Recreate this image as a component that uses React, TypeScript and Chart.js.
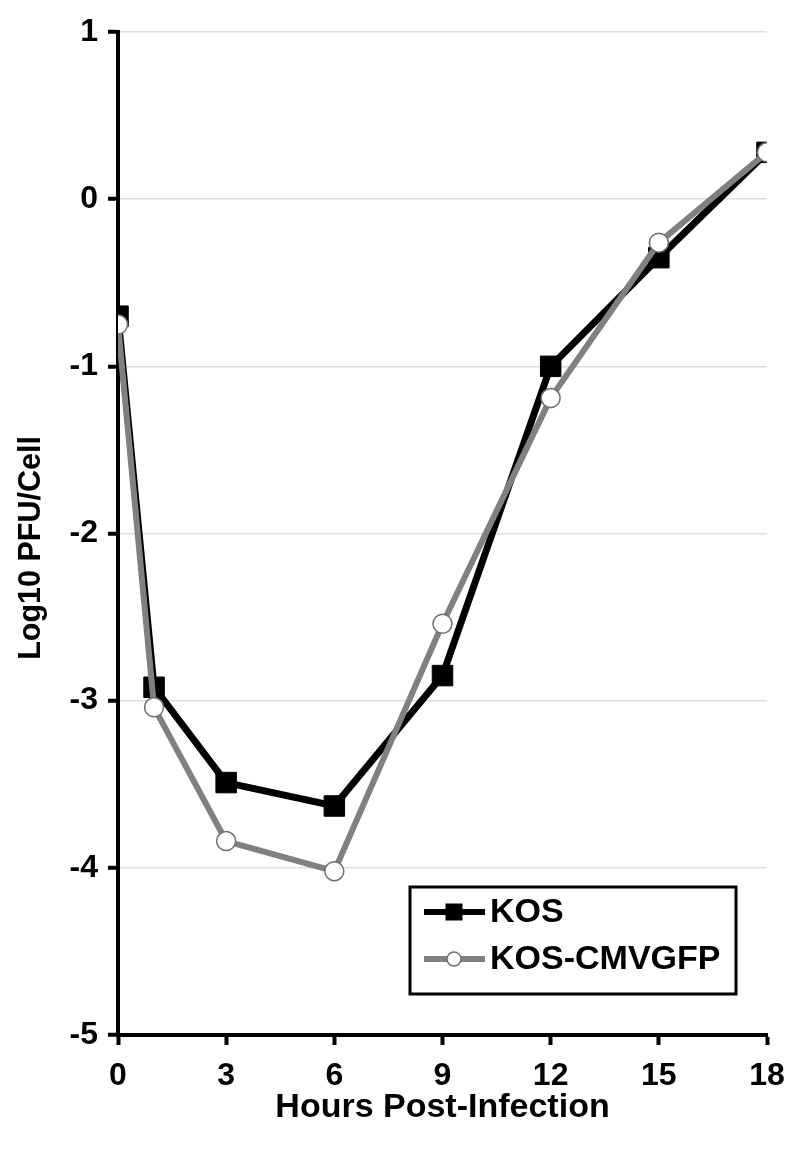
import React, { useEffect, useRef } from "react";
import { Chart, registerables } from "chart.js";

Chart.register(...registerables);

const hours = [0, 1, 3, 6, 9, 12, 15, 18];
const kosValues = [-0.70, -2.92, -3.49, -3.63, -2.85, -1.0, -0.35, 0.28];
const gfpValues = [-0.75, -3.04, -3.84, -4.02, -2.54, -1.19, -0.26, 0.28];
const seriesNames = ["KOS", "KOS-CMVGFP"];
const xTitle = "Hours Post-Infection";
const yTitle = "Log10 PFU/Cell";

const FONT = "'Liberation Sans', Arial, Helvetica, sans-serif";

const legendPlugin = {
  id: "boxLegend",
  afterDraw(chart: any) {
    const ctx = chart.ctx as CanvasRenderingContext2D;
    ctx.save();
    // y-axis title
    ctx.save();
    ctx.translate(24, 540);
    ctx.rotate(-Math.PI / 2);
    ctx.fillStyle = "#000";
    ctx.font = `bold 30.5px ${FONT}`;
    ctx.textAlign = "center";
    ctx.textBaseline = "middle";
    ctx.fillText(yTitle, 0, 0);
    ctx.restore();

    const left = 402, top = 879, w = 326, h = 107;
    ctx.lineWidth = 3;
    ctx.strokeStyle = "#000";
    ctx.fillStyle = "#fff";
    ctx.fillRect(left, top, w, h);
    ctx.strokeRect(left, top, w, h);
    const rows = [
      { y: 904, color: "#000", marker: "rect" },
      { y: 951, color: "#808080", marker: "circle" },
    ];
    rows.forEach((r, i) => {
      ctx.beginPath();
      ctx.lineWidth = 6;
      ctx.strokeStyle = r.color;
      ctx.moveTo(416, r.y);
      ctx.lineTo(477, r.y);
      ctx.stroke();
      if (r.marker === "rect") {
        ctx.fillStyle = "#000";
        ctx.fillRect(446 - 8.5, r.y - 8.5, 17, 17);
      } else {
        ctx.beginPath();
        ctx.arc(446, r.y, 7, 0, Math.PI * 2);
        ctx.fillStyle = "#fff";
        ctx.fill();
        ctx.lineWidth = 1.5;
        ctx.strokeStyle = "#707070";
        ctx.stroke();
      }
      ctx.fillStyle = "#000";
      ctx.font = `bold 34px ${FONT}`;
      ctx.textBaseline = "middle";
      ctx.textAlign = "left";
      ctx.fillText(seriesNames[i], 482, r.y + 1);
    });
    ctx.restore();
  },
};

export default function App() {
  const ref = useRef<HTMLCanvasElement>(null);
  useEffect(() => {
    if (!ref.current) return;
    const chart = new Chart(ref.current, {
      type: "line",
      data: {
        datasets: [
          {
            label: seriesNames[0],
            data: hours.map((h, i) => ({ x: h, y: kosValues[i] })),
            borderColor: "#000",
            borderWidth: 7,
            pointStyle: "rect",
            pointRadius: 14.5,
            pointBackgroundColor: "#000",
            pointBorderColor: "#000",
            pointBorderWidth: 1,
            order: 2,
            tension: 0,
          },
          {
            label: seriesNames[1],
            data: hours.map((h, i) => ({ x: h, y: gfpValues[i] })),
            borderColor: "#808080",
            borderWidth: 6,
            pointStyle: "circle",
            pointRadius: 9.5,
            pointBackgroundColor: "#fff",
            pointBorderColor: "#707070",
            pointBorderWidth: 1.5,
            order: 1,
            tension: 0,
          },
        ],
      },
      options: {
        animation: false,
        responsive: false,
        maintainAspectRatio: false,
        layout: { padding: { top: 24, right: 25, left: 0, bottom: 0 } },
        plugins: { legend: { display: false }, tooltip: { enabled: false } },
        scales: {
          x: {
            type: "linear",
            min: 0,
            max: 18,
            afterFit: (s: any) => {
              s.height = 113;
              s.paddingLeft = 0;
              s.paddingRight = 0;
            },
            ticks: {
              stepSize: 3,
              padding: 12,
              color: "#000",
              font: { family: FONT, size: 32, weight: "bold" },
            },
            grid: {
              drawOnChartArea: false,
              drawTicks: true,
              tickLength: 10,
              tickWidth: 4,
              tickColor: "#000",
            },
            border: { display: true, color: "#000", width: 4 },
            title: {
              display: true,
              text: xTitle,
              color: "#000",
              font: { family: FONT, size: 34, weight: "bold" },
              padding: { top: 0, bottom: 20 },
            },
          },
          y: {
            type: "linear",
            min: -5,
            max: 1,
            afterFit: (s: any) => {
              s.width = 110;
              s.paddingTop = 0;
              s.paddingBottom = 0;
            },
            ticks: {
              stepSize: 1,
              padding: 10,
              color: "#000",
              font: { family: FONT, size: 32, weight: "bold" },
            },
            grid: {
              color: "#dddddd",
              lineWidth: 1.5,
              drawTicks: true,
              tickLength: 10,
              tickWidth: 4,
              tickColor: "#000",
            },
            border: { display: true, color: "#000", width: 4 },
            title: { display: false },
          },
        },
      },
      plugins: [legendPlugin],
    } as any);
    return () => chart.destroy();
  }, []);
  return (
    <div style={{ width: 784, height: 1140 }}>
      <canvas ref={ref} width={784} height={1140} style={{ display: "block" }} />
    </div>
  );
}
